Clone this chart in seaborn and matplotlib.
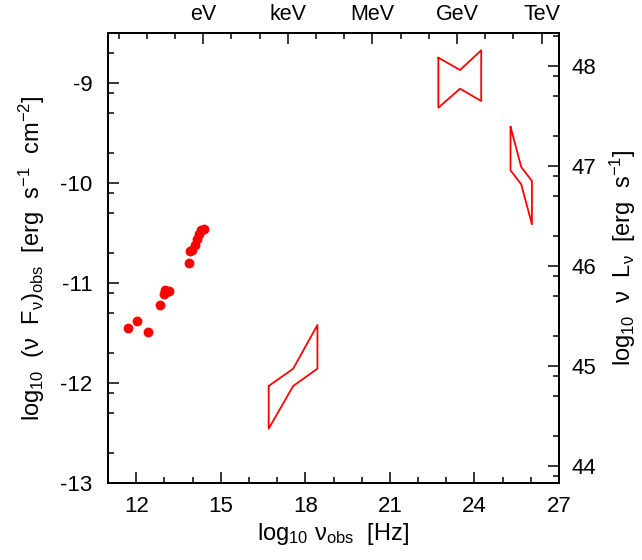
import numpy as np
import pandas as pd
import matplotlib
matplotlib.use("Agg")
import matplotlib.pyplot as plt
import seaborn as sns

# ---- data ----
pt_logx = [11.72, 12.02, 12.41, 12.85, 13.00, 13.03, 13.06, 13.15,
           13.86, 13.92, 13.99, 14.10, 14.17, 14.24, 14.31, 14.40]
pt_logy = [-11.45, -11.38, -11.49, -11.22, -11.11, -11.07, -11.09, -11.08,
           -10.80, -10.68, -10.67, -10.62, -10.56, -10.51, -10.47, -10.46]

# bowties: upper edge (left, mid, right) and lower edge (left, mid, right)
xray_x = [16.70, 17.57, 18.43]
xray_up = [-12.03, -11.857, -11.42]
xray_lo = [-12.457, -12.03, -11.857]

gev_x = [22.72, 23.49, 24.24]
gev_up = [-8.747, -8.87, -8.673]
gev_lo = [-9.247, -9.057, -9.18]

tev_x = [25.28, 25.66, 26.04]
tev_up = [-9.437, -9.84, -9.98]
tev_lo = [-9.873, -10.013, -10.413]

x_ticks = [12, 15, 18, 21, 24, 27]
y_ticks = [-13, -12, -11, -10, -9]
lum_ticks = [44, 45, 46, 47, 48]
lum_offset = 56.83
energy_labels = ["eV", "keV", "MeV", "GeV", "TeV"]
energy_logx = [14.38, 17.38, 20.38, 23.38, 26.38]

# ---- styling ----
sns.set_theme(style="white")
plt.rcParams["font.family"] = ["Liberation Sans", "DejaVu Sans"]
plt.rcParams["mathtext.default"] = "regular"
plt.rcParams["axes.unicode_minus"] = False
for k in ("text.color", "axes.labelcolor", "xtick.color", "ytick.color",
          "axes.edgecolor"):
    plt.rcParams[k] = "black"

fig = plt.figure(figsize=(6.42, 5.60), dpi=100)
ax = fig.add_axes([108 / 642, 1 - 483 / 560, 451 / 642, 450 / 560])

pts = pd.DataFrame({"x": pt_logx, "y": pt_logy})
sns.scatterplot(data=pts, x="x", y="y", ax=ax, color="#ff0000", s=50,
                linewidth=0, zorder=3)

rows = []
for name, xs, up, lo in [("xray", xray_x, xray_up, xray_lo),
                         ("gev", gev_x, gev_up, gev_lo),
                         ("tev", tev_x, tev_up, tev_lo)]:
    px = list(xs) + list(xs[::-1]) + [xs[0]]
    py = list(up) + list(lo[::-1]) + [up[0]]
    for i, (a, b) in enumerate(zip(px, py)):
        rows.append({"shape": name, "order": i, "x": a, "y": b})
bt = pd.DataFrame(rows)
sns.lineplot(data=bt, x="x", y="y", units="shape", estimator=None, sort=False,
             color="#ff0000", lw=1.3, ax=ax)

fs = 16
lfs = 17
ax.set_xlim(11, 27)
ax.set_ylim(-13, -8.5)
ax.set_xticks(x_ticks)
ax.set_xticklabels([str(t) for t in x_ticks], fontsize=fs)
ax.set_xticks(np.arange(11, 28, 1), minor=True)
ax.set_yticks(y_ticks)
ax.set_yticklabels([str(t) for t in y_ticks], fontsize=fs)
yminor = []
for n in range(-14, -7):
    for f in (0.301, 0.699, 0.903):
        v = n + f
        if -13 < v < -8.5:
            yminor.append(v)
ax.set_yticks(yminor, minor=True)
ax.tick_params(which="both", direction="in", top=False, right=False,
               width=1.1, color="black")
ax.tick_params(which="major", length=8)
ax.tick_params(which="minor", length=4)
ax.tick_params(axis="x", which="major", pad=9)
ax.tick_params(axis="y", which="major", pad=11)
for sp in ax.spines.values():
    sp.set_linewidth(1.3)
    sp.set_color("black")

ax.set_xlabel(r"log$_{10}$ ν$_{obs}$  [Hz]", fontsize=lfs, labelpad=3)
ax.set_ylabel(r"log$_{10}$  (ν  F$_{ν}$)$_{obs}$  [erg  s$^{-1}$  cm$^{-2}$]",
              fontsize=lfs, labelpad=10)

# right axis: luminosity
ax2 = ax.twinx()
ax2.set_ylim(-13 + lum_offset, -8.5 + lum_offset)
ax2.set_yticks(lum_ticks)
ax2.set_yticklabels([str(t) for t in lum_ticks], fontsize=fs)
lminor = []
for n in range(43, 50):
    for f in (0.301, 0.699, 0.903):
        v = n + f
        if -13 + lum_offset < v < -8.5 + lum_offset:
            lminor.append(v)
ax2.set_yticks(lminor, minor=True)
ax2.tick_params(which="both", direction="in", left=False, right=True,
                width=1.1, color="black", pad=9)
ax2.tick_params(which="major", length=8)
ax2.tick_params(which="minor", length=4)
ax2.set_ylabel(r"log$_{10}$  ν  L$_{ν}$  [erg  s$^{-1}$]", fontsize=lfs,
               labelpad=8)
ax2.grid(False)

# top axis: photon energy
ax3 = ax.twiny()
ax3.set_xlim(11, 27)
ax3.set_xticks(energy_logx)
ax3.set_xticklabels(energy_labels, fontsize=15.5)
tminor = [v for v in np.arange(11.38, 27, 1.0)]
ax3.set_xticks(tminor, minor=True)
ax3.tick_params(which="both", direction="in", bottom=False, top=True,
                width=1.1, color="black", pad=6)
ax3.tick_params(which="major", length=8)
ax3.tick_params(which="minor", length=4)
ax3.grid(False)
for a in (ax2, ax3):
    for sp in a.spines.values():
        sp.set_linewidth(1.3)
        sp.set_color("black")

fig.savefig("out.png", dpi=100)
